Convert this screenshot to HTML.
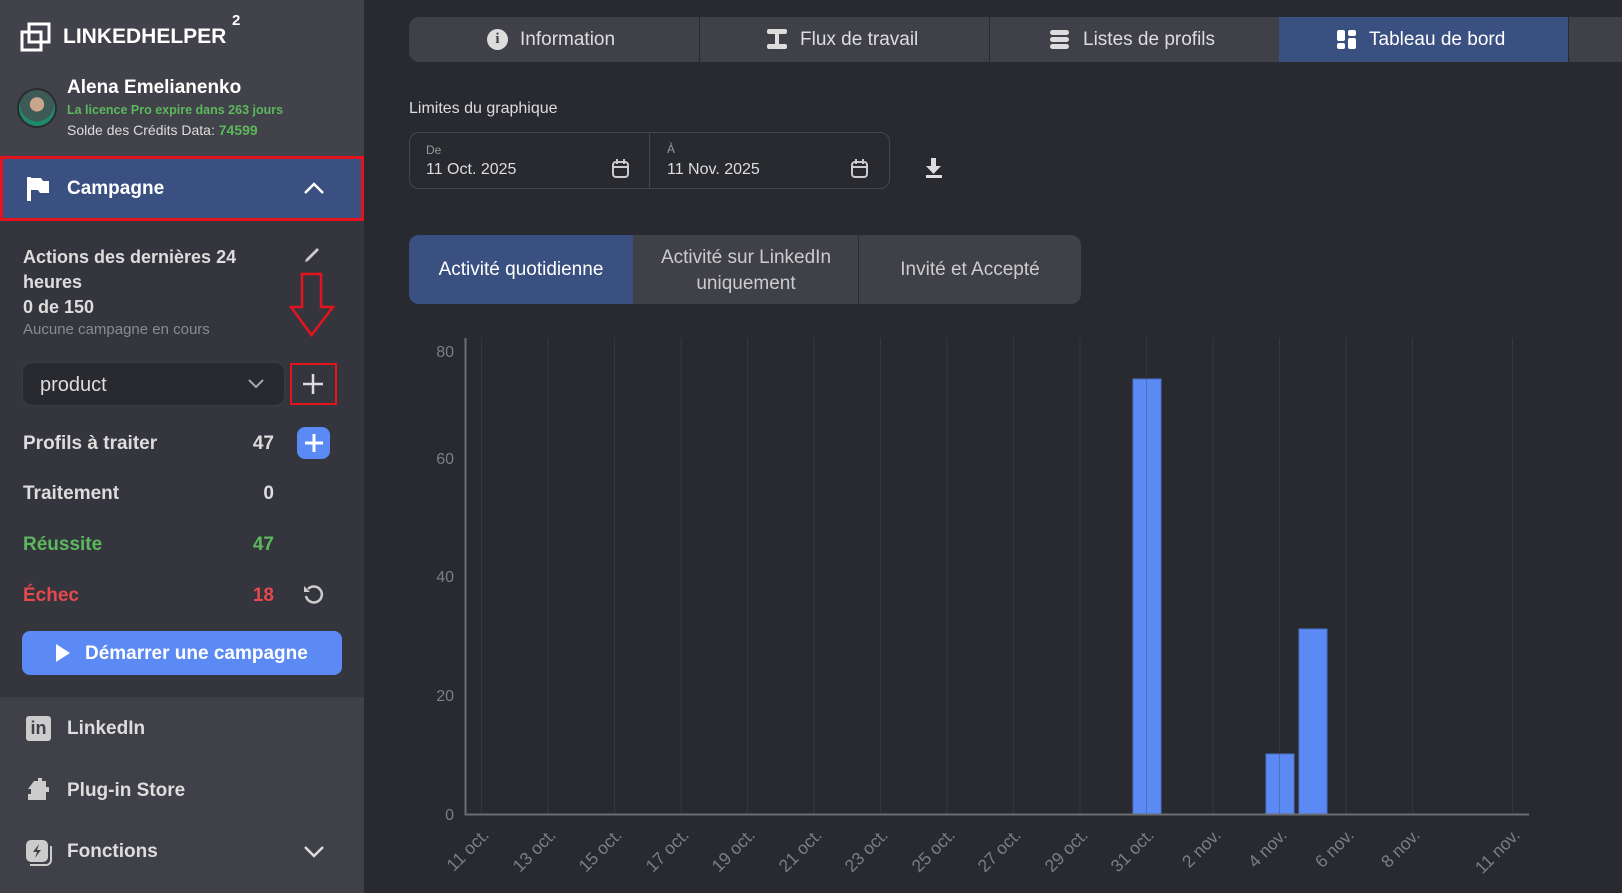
<!DOCTYPE html>
<html><head><meta charset="utf-8"><style>
*{margin:0;padding:0;box-sizing:border-box}
body{width:1622px;height:893px;overflow:hidden;background:#292a30;font-family:"Liberation Sans",sans-serif;position:relative;color:#fff}
.a{position:absolute;white-space:nowrap}
.sb{position:absolute;left:0;top:0;width:364px;height:893px;background:#34353d}
.b{font-weight:bold}
</style></head><body>
<div class="sb"></div>
<div class="a" style="left:0;top:0;width:364px;height:156px;background:#41424a"></div>
<div class="a" style="left:0;top:697px;width:364px;height:196px;background:#3f4048"></div>
<!-- logo -->
<svg class="a" style="left:20px;top:22px" width="32" height="30"><rect x="9" y="2" width="20" height="18" fill="none" stroke="#fff" stroke-width="3"/><rect x="2" y="10" width="19" height="18" fill="none" stroke="#fff" stroke-width="3"/></svg>
<div class="a b" style="left:63px;top:25px;font-size:21px">LINKEDHELPER</div>
<div class="a b" style="left:232px;top:12px;font-size:15px">2</div>
<div class="a" style="left:17px;top:88px;width:40px;height:40px;border-radius:50%;background:radial-gradient(circle at 50% 40%,#c9a58c 0 25%,#3d5a55 26% 60%,#1f8a6a 61%);border:2px solid #2a2b30"></div>
<div class="a b" style="left:67px;top:77px;font-size:19px">Alena Emelianenko</div>
<div class="a b" style="left:67px;top:103px;font-size:12.5px;color:#5cb85c">La licence Pro expire dans 263 jours</div>
<div class="a" style="left:67px;top:122px;font-size:14px;color:#ddd">Solde des Crédits Data: <b style="color:#5cb85c">74599</b></div>
<!-- campagne -->
<div class="a" style="left:0;top:156px;width:364px;height:65px;background:#3a5080;border:3px solid #e3141e"></div>
<svg class="a" style="left:26px;top:175px" width="24" height="26"><path d="M3 2v24" stroke="#fff" stroke-width="4"/><path d="M5 3h10l2 3h6v12h-9l-2-3H5z" fill="#fff"/></svg>
<div class="a b" style="left:67px;top:178px;font-size:19px">Campagne</div>
<svg class="a" style="left:303px;top:181px" width="22" height="14"><path d="M2 12l9-9 9 9" fill="none" stroke="#fff" stroke-width="2.5"/></svg>
<div class="a b" style="left:23px;top:245px;font-size:18px;color:#ddd;line-height:25px;white-space:normal;width:250px">Actions des dernières 24<br>heures<br>0 de 150</div>
<div class="a" style="left:23px;top:321px;font-size:15px;color:#8a8b92">Aucune campagne en cours</div>
<svg class="a" style="left:303px;top:244px" width="20" height="18"><path d="M3 15l11-11 2 2-11 11-3 1z" fill="#ccc"/></svg>
<svg class="a" style="left:288px;top:272px" width="48" height="66"><path d="M14 2h19v33h12L23.5 63 3 35h11z" fill="none" stroke="#e3141e" stroke-width="2.5"/></svg>
<div class="a" style="left:22px;top:362px;width:263px;height:44px;border-radius:10px;background:#292a30;border:1px solid #3c3d44"></div>
<div class="a" style="left:40px;top:374px;font-size:20px;color:#ddd">product</div>
<svg class="a" style="left:247px;top:378px" width="18" height="12"><path d="M2 2l7 7 7-7" fill="none" stroke="#aaa" stroke-width="2"/></svg>
<div class="a" style="left:290px;top:363px;width:47px;height:42px;border:2.5px solid #e3141e"></div>
<svg class="a" style="left:302px;top:373px" width="22" height="22"><path d="M11 1v20M1 11h20" stroke="#ddd" stroke-width="2.5"/></svg>
<div class="a b" style="left:23px;top:433px;font-size:19px;color:#ddd">Profils à traiter</div>
<div class="a b" style="left:234px;top:433px;width:40px;text-align:right;font-size:19px;color:#ddd">47</div>
<div class="a" style="left:297px;top:427px;width:33px;height:32px;border-radius:8px;background:#5b8af5"></div>
<svg class="a" style="left:303px;top:432px" width="22" height="22"><path d="M11 2v18M2 11h18" stroke="#fff" stroke-width="3"/></svg>
<div class="a b" style="left:23px;top:483px;font-size:19px;color:#ddd">Traitement</div>
<div class="a b" style="left:234px;top:483px;width:40px;text-align:right;font-size:19px;color:#ddd">0</div>
<div class="a b" style="left:23px;top:534px;font-size:19px;color:#5cb85c">Réussite</div>
<div class="a b" style="left:234px;top:534px;width:40px;text-align:right;font-size:19px;color:#5cb85c">47</div>
<div class="a b" style="left:23px;top:585px;font-size:19px;color:#e5484d">Échec</div>
<div class="a b" style="left:234px;top:585px;width:40px;text-align:right;font-size:19px;color:#e5484d">18</div>
<svg class="a" style="left:302px;top:583px" width="22" height="22"><path d="M6 6a8 8 0 1 1-2 7" fill="none" stroke="#ccc" stroke-width="2.5"/><path d="M2 3v6h6z" fill="#ccc"/></svg>
<div class="a" style="left:22px;top:631px;width:320px;height:44px;border-radius:8px;background:#5b8af5"></div>
<svg class="a" style="left:55px;top:643px" width="16" height="20"><path d="M1 1l14 9-14 9z" fill="#fff"/></svg>
<div class="a b" style="left:85px;top:643px;font-size:19px">Démarrer une campagne</div>
<!-- bottom nav -->
<div class="a" style="left:26px;top:716px;width:25px;height:25px;border-radius:3px;background:#ccc;color:#3f4048;font-weight:bold;font-size:18px;text-align:center;line-height:25px">in</div>
<div class="a b" style="left:67px;top:718px;font-size:19px;color:#ddd">LinkedIn</div>
<svg class="a" style="left:26px;top:777px" width="28" height="26"><path d="M8 4h4v-3h4v3h4v6h3v5h-3v8H2v-6h3v-5H2z" fill="#ccc"/></svg>
<div class="a b" style="left:67px;top:780px;font-size:19px;color:#ddd">Plug-in Store</div>
<svg class="a" style="left:24px;top:838px" width="30" height="30"><rect x="2" y="2" width="22" height="22" rx="5" fill="#ccc"/><path d="M6 27h16a5 5 0 0 0 5-5V8" fill="none" stroke="#ccc" stroke-width="2"/><path d="M15 6l-6 8h4l-2 6 6-8h-4z" fill="#3f4048"/></svg>
<div class="a b" style="left:67px;top:841px;font-size:19px;color:#ddd">Fonctions</div>
<svg class="a" style="left:303px;top:845px" width="22" height="14"><path d="M2 2l9 9 9-9" fill="none" stroke="#ddd" stroke-width="2.5"/></svg>
<!-- top tabs -->
<div class="a" style="left:409px;top:17px;width:1213px;height:45px;background:#3f4048;border-radius:10px 0 0 10px"></div>
<div class="a" style="left:1279px;top:17px;width:289px;height:45px;background:#3a5080"></div>
<div class="a" style="left:699px;top:17px;width:1px;height:45px;background:#2a2b30"></div>
<div class="a" style="left:989px;top:17px;width:1px;height:45px;background:#2a2b30"></div>
<div class="a" style="left:1568px;top:17px;width:1px;height:45px;background:#2a2b30"></div>
<div class="a" style="left:487px;top:29px;width:21px;height:21px;border-radius:50%;background:#ddd;color:#3f4048;font-weight:bold;font-size:15px;text-align:center;line-height:21px;font-family:'Liberation Serif',serif">i</div>
<div class="a" style="left:520px;top:29px;font-size:19px;color:#ddd">Information</div>
<svg class="a" style="left:766px;top:28px" width="22" height="22"><rect x="1" y="1" width="20" height="5" rx="2" fill="#ddd"/><rect x="1" y="16" width="20" height="5" rx="2" fill="#ddd"/><rect x="9" y="5" width="4" height="12" fill="#ddd"/></svg>
<div class="a" style="left:800px;top:29px;font-size:19px;color:#ddd">Flux de travail</div>
<svg class="a" style="left:1050px;top:29px" width="20" height="22"><rect y="1" width="19" height="5" rx="2.5" fill="#ddd"/><rect y="8" width="19" height="5" rx="2.5" fill="#ddd"/><rect y="15" width="19" height="5" rx="2.5" fill="#ddd"/></svg>
<div class="a" style="left:1083px;top:29px;font-size:19px;color:#ddd">Listes de profils</div>
<svg class="a" style="left:1337px;top:29px" width="20" height="22"><rect y="1" width="8" height="11" rx="2" fill="#fff"/><rect y="14" width="8" height="6" rx="2" fill="#fff"/><rect x="11" y="1" width="8" height="6" rx="2" fill="#fff"/><rect x="11" y="9" width="8" height="11" rx="2" fill="#fff"/></svg>
<div class="a" style="left:1369px;top:29px;font-size:19px">Tableau de bord</div>
<!-- limits -->
<div class="a" style="left:409px;top:100px;font-size:16px;color:#ddd">Limites du graphique</div>
<div class="a" style="left:409px;top:132px;width:481px;height:57px;border:1px solid #45464e;border-radius:10px"></div>
<div class="a" style="left:649px;top:132px;width:1px;height:57px;background:#45464e"></div>
<div class="a" style="left:426px;top:143px;font-size:12px;color:#999">De</div>
<div class="a" style="left:426px;top:161px;font-size:16px;color:#ddd">11 Oct. 2025</div>
<div class="a" style="left:667px;top:142px;font-size:12px;color:#999">À</div>
<div class="a" style="left:667px;top:161px;font-size:16px;color:#ddd">11 Nov. 2025</div>
<svg class="a" style="left:611px;top:158px" width="20" height="22"><rect x="2" y="4" width="15" height="15" rx="3" fill="none" stroke="#ccc" stroke-width="2"/><path d="M2 9h15M6 1v5M13 1v5" stroke="#ccc" stroke-width="2"/></svg>
<svg class="a" style="left:850px;top:158px" width="20" height="22"><rect x="2" y="4" width="15" height="15" rx="3" fill="none" stroke="#ccc" stroke-width="2"/><path d="M2 9h15M6 1v5M13 1v5" stroke="#ccc" stroke-width="2"/></svg>
<svg class="a" style="left:924px;top:157px" width="20" height="22"><path d="M7 1h5v8h5l-7.5 8L2 9h5z" fill="#ddd"/><rect x="2" y="18" width="16" height="3" fill="#ddd"/></svg>
<!-- chart tabs -->
<div class="a" style="left:409px;top:235px;width:672px;height:69px;background:#3f4048;border-radius:10px"></div>
<div class="a" style="left:409px;top:235px;width:224px;height:69px;background:#3a5080;border-radius:10px 0 0 10px"></div>
<div class="a" style="left:858px;top:235px;width:1px;height:69px;background:#2a2b30"></div>
<div class="a" style="left:409px;top:259px;width:224px;text-align:center;font-size:19px">Activité quotidienne</div>
<div class="a" style="left:634px;top:245px;width:224px;text-align:center;font-size:19px;color:#ccc;line-height:26px;white-space:normal">Activité sur LinkedIn<br>uniquement</div>
<div class="a" style="left:859px;top:259px;width:222px;text-align:center;font-size:19px;color:#ccc">Invité et Accepté</div>
<!-- chart -->
<svg class="a" style="left:0;top:0" width="1622" height="893" font-family="Liberation Sans, sans-serif">
<g stroke="#36373e" stroke-width="1">
<path d="M481.5 338V814M548 338V814M614.5 338V814M681 338V814M747.5 338V814M814 338V814M880.5 338V814M947 338V814M1013.5 338V814M1080 338V814M1213 338V814M1346 338V814M1412.5 338V814M1512.5 338V814"/>
</g>
<g fill="#5b8af5" stroke="#4a72cc" stroke-width="1">
<rect x="1133" y="379" width="28" height="435"/>
<rect x="1266" y="754" width="28" height="60"/>
<rect x="1299" y="629" width="28" height="185"/>
</g>
<g stroke="#4f6fb8" stroke-width="1">
<path d="M1146.5 379V814M1279.5 754V814"/>
</g>
<g stroke="#36373e" stroke-width="1"><path d="M1146.5 338V379M1279.5 338V754"/></g>
<path d="M465.5 338V814.5H1529" fill="none" stroke="#6c6d72" stroke-width="2"/>
<g fill="#7d7e84" font-size="16" text-anchor="end">
<text x="454" y="357">80</text><text x="454" y="464">60</text><text x="454" y="582">40</text><text x="454" y="701">20</text><text x="454" y="820">0</text>
</g>
<g fill="#7d7e84" font-size="17.5" text-anchor="end">
<text transform="translate(490,836) rotate(-45)">11 oct.</text>
<text transform="translate(557,836) rotate(-45)">13 oct.</text>
<text transform="translate(623,836) rotate(-45)">15 oct.</text>
<text transform="translate(690,836) rotate(-45)">17 oct.</text>
<text transform="translate(756,836) rotate(-45)">19 oct.</text>
<text transform="translate(823,836) rotate(-45)">21 oct.</text>
<text transform="translate(889,836) rotate(-45)">23 oct.</text>
<text transform="translate(956,836) rotate(-45)">25 oct.</text>
<text transform="translate(1022,836) rotate(-45)">27 oct.</text>
<text transform="translate(1089,836) rotate(-45)">29 oct.</text>
<text transform="translate(1155,836) rotate(-45)">31 oct.</text>
<text transform="translate(1222,836) rotate(-45)">2 nov.</text>
<text transform="translate(1288,836) rotate(-45)">4 nov.</text>
<text transform="translate(1355,836) rotate(-45)">6 nov.</text>
<text transform="translate(1421,836) rotate(-45)">8 nov.</text>
<text transform="translate(1521,836) rotate(-45)">11 nov.</text>
</g>
</svg>
</body></html>
